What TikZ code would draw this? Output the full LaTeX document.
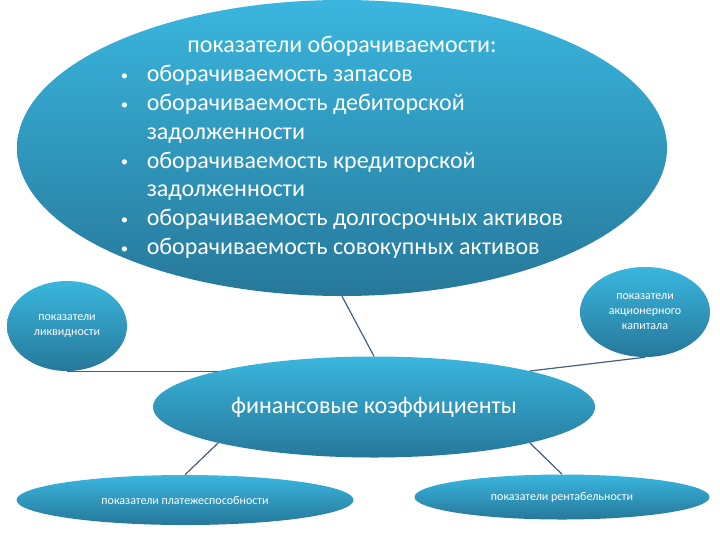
\documentclass[tikz,border=0pt]{standalone}
\usepackage{fontspec}
\setmainfont{Carlito}
\usetikzlibrary{shapes.geometric}
\definecolor{tealtop}{RGB}{58,182,222}
\definecolor{tealbot}{RGB}{38,120,154}
\definecolor{linkblue}{RGB}{68,94,128}
\newcommand{\blt}{\raisebox{1pt}{\fontsize{11}{11}\selectfont •}}
\tikzset{
  bubble/.style={ellipse, inner sep=0pt, top color=tealtop, bottom color=tealbot, text=white},
  link/.style={draw=linkblue, line width=0.9pt},
  smalltext/.style={font=\fontsize{9}{11.25}\selectfont, align=center}
}

\begin{document}
\begin{tikzpicture}[x=0.75pt,y=0.75pt,yscale=-1,xscale=1]
	%set diagram left start at 0, and has height of 540
	\path[use as bounding box] (0,0) rectangle (720,540);

	%Shape: Ellipse [top]
	\draw (342,148) node [bubble, minimum width=487.5pt, minimum height=222pt] (turn) {};
	% Text Node
	\draw (turn.center) node [text=white, inner sep=0pt, font=\fontsize{18}{21.6}\selectfont] (turntext) {%
	\begin{tabular}{@{}c@{\hspace{14pt}}l@{}}
	\multicolumn{2}{c}{показатели оборачиваемости:}\\
	\blt & оборачиваемость запасов\\
	\blt & оборачиваемость дебиторской\\
	     & задолженности\\
	\blt & оборачиваемость кредиторской\\
	     & задолженности\\
	\blt & оборачиваемость долгосрочных активов\\
	\blt & оборачиваемость совокупных активов
	\end{tabular}};

	%Shape: Ellipse [left]
	\draw (67,326) node [bubble, minimum width=90pt, minimum height=67.5pt, smalltext] (liq) {показатели\\ликвидности};
	%Shape: Ellipse [right]
	\draw (645,312) node [bubble, minimum width=97.5pt, minimum height=67.5pt, smalltext] (capital) {показатели\\акционерного\\капитала};
	%Shape: Ellipse [middle]
	\draw (374,407) node [bubble, minimum width=331.5pt, minimum height=75.75pt, font=\fontsize{18}{22}\selectfont] (fin) {финансовые коэффициенты};
	%Shape: Ellipse [bottom left]
	\draw (185,500) node [bubble, minimum width=252.75pt, minimum height=37.5pt, smalltext] (pay) {показатели платежеспособности};
	%Shape: Ellipse [bottom right]
	\draw (562,497) node [bubble, minimum width=221.25pt, minimum height=33.75pt, smalltext] (profit) {показатели рентабельности};

	%Straight Lines
	\draw [link] (turn.south) -- (fin.north) ;
	\draw [link] (liq.south) -- (liq.south -| fin.167) ;
	\draw [link] (capital.south) -- (fin.13) ;
	\draw [link] (fin.193) -- (pay.north) ;
	\draw [link] (fin.347) -- (profit.north) ;

\end{tikzpicture}
\end{document}
